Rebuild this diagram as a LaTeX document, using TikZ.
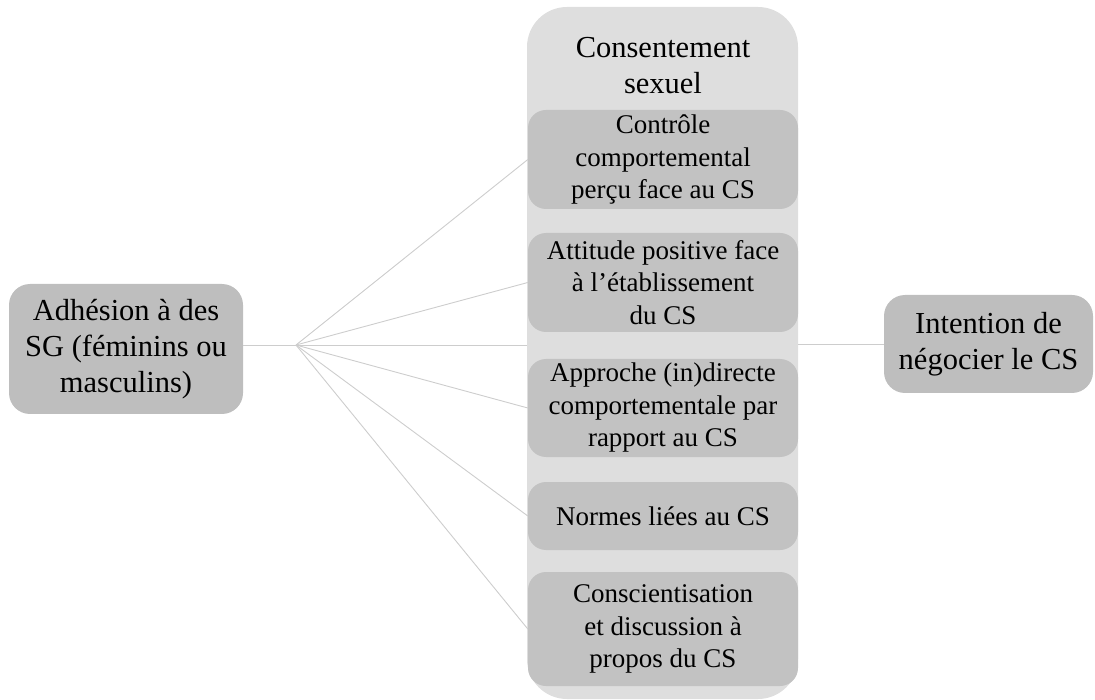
\documentclass[tikz,border=0pt]{standalone}
\usepackage{fontspec}
\setmainfont{Liberation Serif}
\definecolor{contfill}{RGB}{222,222,222}
\definecolor{boxfill}{RGB}{194,194,194}
\definecolor{sidefill}{RGB}{190,190,190}
\definecolor{linkcol}{RGB}{205,205,205}
\begin{document}
\begin{tikzpicture}[x=1pt,y=-1pt,
  bigtext/.style={font=\fontsize{30.5}{36}\selectfont, align=center, text=black},
  smalltext/.style={font=\fontsize{27}{32.5}\selectfont, align=center, text=black},
  sidebox/.style={rectangle, rounded corners=21pt, fill=sidefill, draw=none, inner sep=0pt, bigtext},
  innerbox/.style={rectangle, rounded corners=18pt, fill=boxfill, draw=none, inner sep=0pt, minimum width=270pt, smalltext},
  link/.style={draw=linkcol, line width=0.9pt}
]
\useasboundingbox (0,0) rectangle (1095,700);
% container
\node[rectangle, rounded corners=40pt, fill=contfill, minimum width=271pt, minimum height=692pt, inner sep=0pt] (cont) at (662.5,353) {};
\node[bigtext] (title) at (663,66) {Consentement\\sexuel};
% inner boxes
\node[innerbox, minimum height=99pt] (b1) at (663,159.5) {Contrôle\\comportemental\\perçu face au CS};
\node[innerbox, minimum height=99pt] (b2) at (663,282.5) {Attitude positive face\\à l’établissement\\du CS};
\node[innerbox, minimum height=98pt] (b3) at (663,408) {Approche (in)directe\\comportementale par\\rapport au CS};
\node[innerbox, minimum height=68pt] (b4) at (663,516) {Normes liées au CS};
\node[innerbox, minimum height=114pt] (b5) at (663,629) {Conscientisation\\et discussion à\\propos du CS};
% side boxes
\node[sidebox, minimum width=234pt, minimum height=130pt] (left) at (126,349) {Adhésion à des\\SG (féminins ou\\masculins)};
\node[sidebox, minimum width=209pt, minimum height=98pt] (right) at (988.5,344) {Intention de\\négocier le CS};
% hub
\coordinate (hub) at (296,345);
% connectors
\draw[link] (hub -| left.east) -- (hub);
\draw[link] (hub) -- (b1.west);
\draw[link] (hub) -- (b2.west);
\draw[link] (hub) -- (hub -| cont.west);
\draw[link] (hub) -- (b3.west);
\draw[link] (hub) -- (b4.west);
\draw[link] (hub) -- (b5.west);
\draw[link] (right.west -| cont.east) -- (right.west);
\end{tikzpicture}
\end{document}
